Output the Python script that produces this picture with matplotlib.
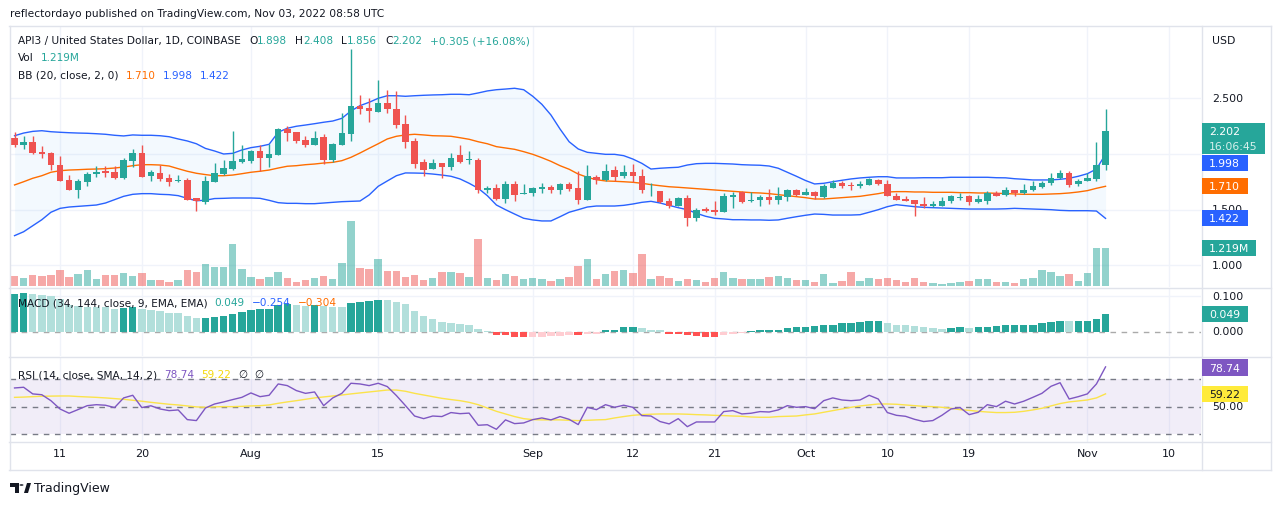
import numpy as np
import pandas as pd
import matplotlib
matplotlib.use("Agg")
import matplotlib.pyplot as plt
from matplotlib.patches import Rectangle, Polygon, Circle
from matplotlib.transforms import blended_transform_factory

W, H = 1280, 506
plt.rcParams["font.family"] = ["DejaVu Sans"]

start = pd.Timestamp("2022-07-06")

opens = [2.144, 2.084, 2.110, 2.021, 2.009, 1.901, 1.767, 1.680, 1.751, 1.820,
         1.847, 1.838, 1.782, 1.940, 2.009, 1.805, 1.829, 1.785, 1.758, 1.767,
         1.605, 1.566, 1.751, 1.823, 1.865, 1.925, 1.940, 2.027, 1.967, 1.994,
         2.224, 2.195, 2.123, 2.081, 2.153, 1.949, 2.084, 2.182, 2.431, 2.413,
         2.380, 2.458, 2.404, 2.269, 2.117, 1.925, 1.868, 1.919, 1.886, 1.991,
         1.946, 1.949, 1.680, 1.695, 1.596, 1.728, 1.644, 1.653, 1.689, 1.707,
         1.680, 1.728, 1.695, 1.590, 1.793, 1.767, 1.856, 1.805, 1.841, 1.802,
         1.665, 1.668, 1.578, 1.536, 1.605, 1.428, 1.504, 1.500, 1.482, 1.614,
         1.659, 1.575, 1.590, 1.614, 1.590, 1.614, 1.677, 1.635, 1.659, 1.617,
         1.698, 1.740, 1.725, 1.716, 1.725, 1.770, 1.731, 1.623, 1.599, 1.587,
         1.551, 1.533, 1.533, 1.581, 1.608, 1.623, 1.572, 1.581, 1.650, 1.635,
         1.677, 1.653, 1.677, 1.704, 1.740, 1.785, 1.829, 1.731, 1.761, 1.776,
         1.898]
highs = [2.200, 2.164, 2.164, 2.069, 2.021, 1.979, 1.811, 1.776, 1.841, 1.895,
         1.895, 1.895, 1.961, 2.045, 2.078, 1.859, 1.901, 1.818, 1.812, 1.782,
         1.605, 1.805, 1.919, 1.949, 2.207, 2.081, 2.039, 2.081, 2.087, 2.236,
         2.248, 2.200, 2.164, 2.207, 2.177, 2.099, 2.368, 2.943, 2.530, 2.500,
         2.664, 2.575, 2.566, 2.350, 2.141, 1.955, 1.955, 1.920, 2.009, 2.081,
         2.027, 1.961, 1.715, 1.728, 1.758, 1.758, 1.728, 1.704, 1.740, 1.722,
         1.740, 1.745, 1.845, 1.901, 1.811, 1.907, 1.895, 1.901, 1.910, 1.865,
         1.737, 1.668, 1.602, 1.614, 1.632, 1.512, 1.524, 1.578, 1.650, 1.656,
         1.668, 1.659, 1.632, 1.686, 1.704, 1.689, 1.686, 1.692, 1.671, 1.731,
         1.767, 1.761, 1.751, 1.758, 1.782, 1.776, 1.764, 1.650, 1.620, 1.590,
         1.614, 1.578, 1.611, 1.628, 1.653, 1.632, 1.632, 1.668, 1.668, 1.704,
         1.680, 1.731, 1.758, 1.758, 1.829, 1.856, 1.847, 1.776, 1.829, 2.108,
         2.408]
lows = [2.066, 2.045, 1.997, 1.961, 1.859, 1.755, 1.675, 1.602, 1.710, 1.791,
        1.791, 1.776, 1.776, 1.886, 1.793, 1.755, 1.760, 1.715, 1.751, 1.585,
        1.491, 1.548, 1.745, 1.811, 1.859, 1.919, 1.919, 1.850, 1.886, 1.991,
        2.117, 2.096, 2.060, 2.078, 1.913, 1.925, 2.081, 2.119, 2.359, 2.285,
        2.374, 2.368, 2.233, 2.051, 1.877, 1.800, 1.865, 1.782, 1.859, 1.922,
        1.913, 1.647, 1.650, 1.590, 1.563, 1.581, 1.640, 1.626, 1.650, 1.650,
        1.644, 1.668, 1.554, 1.585, 1.734, 1.760, 1.758, 1.788, 1.746, 1.653,
        1.626, 1.563, 1.518, 1.530, 1.356, 1.401, 1.477, 1.452, 1.480, 1.515,
        1.563, 1.570, 1.536, 1.554, 1.548, 1.581, 1.626, 1.630, 1.596, 1.605,
        1.695, 1.695, 1.680, 1.698, 1.722, 1.725, 1.620, 1.585, 1.578, 1.446,
        1.518, 1.527, 1.530, 1.563, 1.587, 1.542, 1.563, 1.554, 1.620, 1.623,
        1.626, 1.638, 1.668, 1.695, 1.722, 1.776, 1.704, 1.713, 1.760, 1.758,
        1.856]
closes = [2.081, 2.110, 2.009, 1.997, 1.904, 1.760, 1.680, 1.758, 1.818, 1.838,
          1.829, 1.782, 1.943, 2.009, 1.796, 1.836, 1.776, 1.751, 1.770, 1.590,
          1.581, 1.758, 1.829, 1.874, 1.937, 1.955, 2.027, 1.967, 2.000, 2.224,
          2.188, 2.119, 2.081, 2.144, 1.949, 2.087, 2.188, 2.428, 2.404, 2.386,
          2.458, 2.407, 2.258, 2.110, 1.913, 1.859, 1.919, 1.886, 1.964, 1.928,
          1.955, 1.680, 1.698, 1.596, 1.728, 1.632, 1.653, 1.695, 1.707, 1.680,
          1.728, 1.689, 1.590, 1.800, 1.764, 1.847, 1.796, 1.838, 1.805, 1.680,
          1.668, 1.569, 1.536, 1.605, 1.428, 1.497, 1.491, 1.482, 1.623, 1.632,
          1.572, 1.590, 1.614, 1.587, 1.626, 1.677, 1.635, 1.659, 1.623, 1.713,
          1.740, 1.713, 1.716, 1.731, 1.776, 1.734, 1.626, 1.590, 1.581, 1.554,
          1.533, 1.551, 1.578, 1.623, 1.617, 1.572, 1.596, 1.650, 1.626, 1.677,
          1.647, 1.677, 1.713, 1.740, 1.785, 1.829, 1.722, 1.758, 1.785, 1.898,
          2.202]
volume_m = [0.32, 0.26, 0.35, 0.32, 0.35, 0.51, 0.29, 0.38, 0.51, 0.22,
            0.35, 0.35, 0.42, 0.32, 0.42, 0.19, 0.19, 0.13, 0.19, 0.51,
            0.45, 0.71, 0.61, 0.61, 1.35, 0.55, 0.29, 0.22, 0.29, 0.45,
            0.26, 0.13, 0.19, 0.26, 0.32, 0.22, 0.74, 2.08, 0.58, 0.55,
            0.87, 0.48, 0.48, 0.29, 0.35, 0.19, 0.26, 0.45, 0.45, 0.42,
            0.29, 1.51, 0.26, 0.19, 0.38, 0.32, 0.22, 0.26, 0.22, 0.16,
            0.22, 0.29, 0.64, 0.87, 0.22, 0.38, 0.48, 0.51, 0.42, 1.03,
            0.22, 0.32, 0.26, 0.16, 0.22, 0.19, 0.13, 0.26, 0.45, 0.26,
            0.22, 0.22, 0.22, 0.29, 0.32, 0.26, 0.19, 0.19, 0.13, 0.38,
            0.10, 0.16, 0.45, 0.16, 0.26, 0.22, 0.26, 0.19, 0.13, 0.26,
            0.13, 0.10, 0.06, 0.10, 0.13, 0.16, 0.22, 0.22, 0.13, 0.13,
            0.10, 0.22, 0.26, 0.51, 0.45, 0.32, 0.38, 0.16, 0.42, 1.21,
            1.219]
bb_upper = [2.164, 2.188, 2.203, 2.209, 2.200, 2.195, 2.191, 2.188, 2.186, 2.182,
            2.177, 2.168, 2.162, 2.171, 2.168, 2.168, 2.164, 2.155, 2.135, 2.117,
            2.092, 2.050, 2.027, 2.000, 2.006, 2.036, 2.057, 2.069, 2.087, 2.195,
            2.231, 2.249, 2.260, 2.272, 2.285, 2.296, 2.320, 2.386, 2.434, 2.464,
            2.500, 2.523, 2.523, 2.518, 2.523, 2.527, 2.530, 2.532, 2.536, 2.536,
            2.532, 2.548, 2.566, 2.577, 2.583, 2.590, 2.577, 2.518, 2.446, 2.350,
            2.224, 2.110, 2.045, 2.015, 2.006, 1.997, 1.997, 1.985, 1.955, 1.916,
            1.865, 1.872, 1.877, 1.881, 1.901, 1.913, 1.916, 1.916, 1.913, 1.910,
            1.904, 1.901, 1.899, 1.892, 1.872, 1.836, 1.800, 1.762, 1.731, 1.737,
            1.751, 1.764, 1.776, 1.785, 1.791, 1.796, 1.796, 1.785, 1.785, 1.785,
            1.787, 1.787, 1.787, 1.791, 1.791, 1.791, 1.791, 1.791, 1.787, 1.786,
            1.778, 1.773, 1.767, 1.767, 1.767, 1.773, 1.782, 1.800, 1.823, 1.865,
            1.998]
bb_basis = [1.722, 1.751, 1.782, 1.805, 1.836, 1.850, 1.856, 1.859, 1.863, 1.865,
            1.868, 1.874, 1.883, 1.895, 1.904, 1.904, 1.901, 1.892, 1.868, 1.845,
            1.827, 1.815, 1.805, 1.805, 1.811, 1.823, 1.836, 1.845, 1.856, 1.874,
            1.890, 1.895, 1.904, 1.910, 1.919, 1.925, 1.940, 1.970, 2.009, 2.051,
            2.092, 2.135, 2.159, 2.171, 2.177, 2.171, 2.164, 2.162, 2.159, 2.146,
            2.132, 2.110, 2.092, 2.066, 2.054, 2.042, 2.021, 1.997, 1.967, 1.934,
            1.895, 1.863, 1.820, 1.791, 1.769, 1.758, 1.755, 1.751, 1.746, 1.737,
            1.725, 1.715, 1.706, 1.701, 1.695, 1.689, 1.683, 1.677, 1.671, 1.665,
            1.659, 1.653, 1.650, 1.644, 1.635, 1.626, 1.617, 1.608, 1.596, 1.596,
            1.602, 1.608, 1.614, 1.620, 1.632, 1.644, 1.659, 1.662, 1.662, 1.659,
            1.659, 1.656, 1.656, 1.656, 1.653, 1.653, 1.650, 1.650, 1.647, 1.645,
            1.641, 1.638, 1.638, 1.638, 1.641, 1.644, 1.650, 1.659, 1.671, 1.692,
            1.710]
bb_lower = [1.267, 1.302, 1.356, 1.410, 1.477, 1.512, 1.524, 1.530, 1.536, 1.542,
            1.560, 1.590, 1.620, 1.638, 1.644, 1.644, 1.638, 1.635, 1.626, 1.602,
            1.580, 1.585, 1.600, 1.602, 1.605, 1.605, 1.605, 1.602, 1.584, 1.563,
            1.557, 1.557, 1.554, 1.554, 1.560, 1.566, 1.572, 1.575, 1.578, 1.632,
            1.710, 1.758, 1.805, 1.830, 1.829, 1.827, 1.820, 1.811, 1.800, 1.776,
            1.737, 1.692, 1.626, 1.542, 1.500, 1.461, 1.423, 1.408, 1.399, 1.399,
            1.437, 1.477, 1.500, 1.524, 1.533, 1.533, 1.533, 1.539, 1.551, 1.566,
            1.575, 1.560, 1.539, 1.518, 1.500, 1.468, 1.441, 1.423, 1.417, 1.410,
            1.410, 1.408, 1.408, 1.405, 1.408, 1.423, 1.437, 1.450, 1.461, 1.458,
            1.452, 1.452, 1.452, 1.455, 1.477, 1.500, 1.527, 1.545, 1.536, 1.527,
            1.521, 1.518, 1.515, 1.512, 1.509, 1.506, 1.506, 1.506, 1.506, 1.508,
            1.512, 1.509, 1.506, 1.503, 1.500, 1.494, 1.491, 1.491, 1.491, 1.488,
            1.422]
macd_hist = [0.105, 0.107, 0.106, 0.102, 0.099, 0.091, 0.073, 0.071, 0.070, 0.069,
             0.068, 0.063, 0.066, 0.068, 0.063, 0.060, 0.057, 0.053, 0.051, 0.043,
             0.038, 0.039, 0.041, 0.045, 0.049, 0.054, 0.061, 0.062, 0.064, 0.074,
             0.077, 0.074, 0.071, 0.075, 0.072, 0.069, 0.068, 0.080, 0.083, 0.086,
             0.089, 0.088, 0.082, 0.076, 0.058, 0.043, 0.036, 0.027, 0.024, 0.021,
             0.018, 0.007, 0.001, -0.008, -0.010, -0.014, -0.016, -0.015, -0.014, -0.013,
             -0.011, -0.009, -0.010, -0.007, -0.005, 0.004, 0.006, 0.012, 0.0125, 0.009,
             0.006, 0.004, -0.005, -0.0055, -0.010, -0.013, -0.0135, -0.016, -0.010, -0.007,
             -0.004, 0.001, 0.004, 0.0045, 0.006, 0.009, 0.012, 0.0125, 0.015, 0.018,
             0.020, 0.023, 0.0235, 0.026, 0.029, 0.0295, 0.023, 0.020, 0.018, 0.015,
             0.012, 0.009, 0.0088, 0.0092, 0.012, 0.0115, 0.012, 0.0125, 0.015, 0.018,
             0.0182, 0.0185, 0.020, 0.023, 0.026, 0.031, 0.029, 0.0295, 0.031, 0.034,
             0.049]
rsi = [63.5, 64.0, 59.2, 58.6, 54.3, 48.3, 45.2, 47.9, 50.7, 51.4,
       51.0, 49.3, 56.3, 58.2, 49.3, 50.6, 48.3, 47.1, 47.6, 40.6,
       39.9, 49.0, 51.9, 53.4, 55.1, 56.7, 59.9, 57.2, 58.2, 66.4,
       65.2, 61.6, 59.6, 60.6, 50.7, 56.3, 59.6, 66.9, 66.4, 65.2,
       66.9, 64.5, 58.0, 50.7, 43.2, 41.3, 43.2, 42.8, 45.7, 44.9,
       45.3, 36.5, 36.9, 33.6, 40.4, 37.7, 38.2, 40.6, 41.8, 40.4,
       42.8, 40.8, 37.0, 49.5, 47.8, 51.4, 49.5, 51.0, 49.5, 43.5,
       43.2, 39.2, 37.5, 41.3, 35.5, 38.9, 38.9, 38.9, 46.4, 47.1,
       44.7, 45.2, 46.4, 46.1, 47.6, 50.7, 49.5, 50.0, 48.5, 54.3,
       56.3, 54.8, 54.3, 54.8, 58.2, 55.5, 45.7, 43.7, 43.0, 40.8,
       39.2, 39.9, 43.7, 48.3, 49.3, 44.2, 45.9, 51.4, 50.0, 53.9,
       51.9, 53.9, 56.7, 59.6, 64.7, 67.3, 55.5, 57.2, 59.2, 66.4,
       78.74]
rsi_ma = [56.7, 56.9, 57.2, 57.5, 57.6, 57.7, 57.7, 57.3, 57.0, 56.7,
          56.3, 55.8, 55.3, 54.6, 53.9, 53.1, 52.4, 51.7, 51.2, 50.5,
          49.8, 49.5, 49.8, 50.0, 50.0, 50.2, 50.5, 50.7, 51.2, 52.4,
          53.4, 54.3, 55.3, 56.3, 57.0, 57.7, 58.4, 59.2, 59.9, 60.6,
          61.3, 62.0, 62.0, 61.1, 59.6, 58.4, 57.2, 56.0, 55.1, 54.3,
          53.1, 51.4, 49.0, 46.6, 44.7, 42.8, 41.3, 40.6, 40.4, 40.4,
          40.4, 40.1, 39.9, 40.1, 40.4, 40.6, 41.8, 42.8, 43.7, 44.2,
          44.5, 44.7, 44.7, 44.7, 44.5, 44.2, 44.0, 43.7, 43.5, 43.2,
          43.0, 42.5, 42.3, 42.3, 42.8, 43.0, 43.2, 44.0, 44.7, 45.9,
          47.1, 48.3, 49.5, 50.5, 51.2, 51.9, 51.9, 51.7, 51.2, 50.7,
          50.2, 50.0, 49.5, 48.8, 47.8, 47.3, 46.6, 46.1, 45.7, 45.7,
          45.9, 46.6, 47.6, 48.8, 50.5, 52.2, 53.4, 54.1, 54.8, 56.3,
          59.22]

tick_dates = ["2022-07-11", "2022-07-20", "2022-08-01", "2022-08-15", "2022-09-01",
              "2022-09-12", "2022-09-21", "2022-10-01", "2022-10-10", "2022-10-19",
              "2022-11-01", "2022-11-10"]
tick_labels = ["11", "20", "Aug", "15", "Sep", "12", "21", "Oct", "10", "19", "Nov", "10"]
price_ticks = [1.0, 1.5, 2.0, 2.5]

UP, DOWN = "#26a69a", "#ef5350"
TXT = "#131722"
GRID = "#f0f3fa"
BORDER = "#e0e3eb"
LEG = 7.6  # legend font size

o = np.array(opens); h = np.array(highs); l = np.array(lows); c = np.array(closes)
idx = np.arange(len(c))
ticks = [(pd.Timestamp(d) - start).days for d in tick_dates]
up = c >= o
ccol = np.where(up, UP, DOWN)

fig = plt.figure(figsize=(12.8, 5.06), dpi=100)
fig.patch.set_facecolor("white")
renderer = fig.canvas.get_renderer()


def box(x0, y0, x1, y1):
    return [x0 / W, 1 - y1 / H, (x1 - x0) / W, (y1 - y0) / H]


def ftext(x, y, s, color=TXT, size=LEG, **kw):
    return fig.text(x / W, 1 - y / H, s, color=color, fontsize=size, va="center", **kw)


def legend_row(x, y, parts, gap=7):
    # parts: list of (text, color, stick) ; stick=True means no gap before next part
    for s, col, stick in parts:
        t = ftext(x, y, s, color=col)
        x += t.get_window_extent(renderer).width + (0 if stick else gap)


def fline(x0, y0, x1, y1, color=BORDER):
    fig.add_artist(plt.Line2D([x0 / W, x1 / W], [1 - y0 / H, 1 - y1 / H],
                              transform=fig.transFigure, color=color, lw=1))


def tag(y0, y1, color, s, x1=1248, tcolor="white", s2=None):
    fig.add_artist(Rectangle((1202 / W, 1 - y1 / H), (x1 - 1202) / W, (y1 - y0) / H,
                             transform=fig.transFigure, fc=color, ec="none", zorder=5))
    if s2 is None:
        fig.text(1209 / W, 1 - (y0 + y1) / 2 / H, s, color=tcolor, fontsize=7.8,
                 va="center", zorder=6)
    else:
        fig.text(1209 / W, 1 - (y0 + 8) / H, s, color=tcolor, fontsize=7.8, va="center", zorder=6)
        fig.text(1209 / W, 1 - (y1 - 8) / H, s2, color="#d6f0ec", fontsize=7.8, va="center", zorder=6)


XL = (-0.5, 130.5)
ax_vol = fig.add_axes(box(10, 27, 1201, 288))
ax = fig.add_axes(box(10, 27, 1201, 288))
ax_macd = fig.add_axes(box(10, 289, 1201, 357))
ax_rsi = fig.add_axes(box(10, 358, 1201, 443))
for a in (ax_vol, ax, ax_macd, ax_rsi):
    a.set_xlim(*XL)
    for s in a.spines.values():
        s.set_visible(False)
    a.set_xticks([])
    a.set_yticks([])
ax.set_facecolor("none")

# vertical grid
for a in (ax_vol, ax_macd, ax_rsi):
    for t in ticks:
        a.axvline(t, color=GRID, lw=1, zorder=0)

# price pane: horizontal grid drawn behind volume via the volume axes
ax.set_ylim(0.806, 3.149)
ax_vol.set_ylim(-0.032, 8.34)
for p in price_ticks:
    yv = ax_vol.transData.inverted().transform(ax.transData.transform((0, p)))[1]
    ax_vol.axhline(yv, color=GRID, lw=1, zorder=0)

vcol = [(0.149, 0.651, 0.604, 0.5) if u else (0.937, 0.325, 0.314, 0.5) for u in up]
ax_vol.bar(idx, volume_m, width=0.82, color=vcol, zorder=2)

ax.fill_between(idx, bb_lower, bb_upper, color="#2196f3", alpha=0.05, lw=0)
ax.plot(idx, bb_upper, color="#2962ff", lw=1)
ax.plot(idx, bb_lower, color="#2962ff", lw=1)
ax.plot(idx, bb_basis, color="#ff6d00", lw=1)
ax.vlines(idx, l, h, color=ccol, lw=1, zorder=3)
ax.bar(idx, np.maximum(np.abs(c - o), 0.007), bottom=np.minimum(o, c), width=0.72,
       color=ccol, zorder=4)

# MACD histogram
ax_macd.set_ylim(-0.0675, 0.1214)
ax_macd.axhline(0.1, color=GRID, lw=1, zorder=0)
mcol = []
prev = None
for v in macd_hist:
    rising = prev is None or v > prev
    if v >= 0:
        mcol.append("#26a69a" if rising else "#b2dfdb")
    else:
        mcol.append("#ffcdd2" if rising else "#ff5252")
    prev = v
ax_macd.axhline(0, color="#aaaaaa", lw=1, ls=(0, (4, 4)), zorder=1)
ax_macd.bar(idx, macd_hist, width=0.82, color=mcol, zorder=2)

# RSI
ax_rsi.set_ylim(24.4, 85.9)
ax_rsi.axhspan(30, 70, color="#7e57c2", alpha=0.1, lw=0)
for lv in (70, 50, 30):
    ax_rsi.axhline(lv, color="#787b86", lw=1, ls=(0, (4, 4)))
ax_rsi.plot(idx, rsi_ma, color="#fbe34a", lw=1)
ax_rsi.plot(idx, rsi, color="#7e57c2", lw=1)

# frame and separators
fline(9, 27, 1271, 27)
fline(9, 288.5, 1271, 288.5)
fline(9, 357.5, 1271, 357.5)
fline(9, 443, 1271, 443)
fline(9, 471, 1271, 471)
fline(9.5, 27, 9.5, 471)
fline(1270.5, 27, 1270.5, 471)
fline(1201.5, 27, 1201.5, 471)

# time axis
tr = blended_transform_factory(ax_rsi.transData, fig.transFigure)
for t, s in zip(ticks, tick_labels):
    ax_rsi.text(t, 1 - 454 / H, s, transform=tr, ha="center", va="center",
                color=TXT, fontsize=8, clip_on=False)

# right scale
ftext(1212, 41, "USD", size=7.8)
for y, s in ((99, "2.500"), (210, "1.500"), (266, "1.000"), (297, "0.100"),
             (332, "0.000"), (407, "50.00")):
    ftext(1212, y, s, size=7.8)
tag(124, 155, UP, "2.202", x1=1265, s2="16:06:45")
tag(156, 172, "#2962ff", "1.998")
tag(179, 195, "#ff6d00", "1.710")
tag(211, 227, "#2962ff", "1.422")
tag(241, 257, UP, "1.219M", x1=1256)
tag(307, 323, UP, "0.049")
tag(360, 377, "#7e57c2", "78.74")
tag(387, 403, "#ffeb3b", "59.22", tcolor=TXT)

# header and legends
ftext(10, 14, "reflectordayo published on TradingView.com, Nov 03, 2022 08:58 UTC", size=7.7)
legend_row(18, 41, [("API3 / United States Dollar, 1D, COINBASE", TXT, False),
                    ("O", TXT, True), ("1.898", UP, False),
                    ("H", TXT, True), ("2.408", UP, False),
                    ("L", TXT, True), ("1.856", UP, False),
                    ("C", TXT, True), ("2.202", UP, False),
                    ("+0.305 (+16.08%)", UP, False)], gap=8)
legend_row(18, 58, [("Vol", TXT, False), ("1.219M", UP, False)])
legend_row(18, 76, [("BB (20, close, 2, 0)", TXT, False), ("1.710", "#ff6d00", False),
                    ("1.998", "#2962ff", False), ("1.422", "#2962ff", False)])
legend_row(18, 303, [("MACD (34, 144, close, 9, EMA, EMA)", TXT, False), ("0.049", UP, False),
                     ("\u22120.254", "#2962ff", False), ("\u22120.304", "#ff6d00", False)])
legend_row(18, 375, [("RSI (14, close, SMA, 14, 2)", TXT, False), ("78.74", "#7e57c2", False),
                     ("59.22", "#f5d90a", False), ("\u2205", TXT, False), ("\u2205", TXT, False)])

# TradingView logo
fig.add_artist(Polygon([(10 / W, 1 - 484 / H), (19 / W, 1 - 484 / H), (19 / W, 1 - 494 / H),
                        (15 / W, 1 - 494 / H), (15 / W, 1 - 488 / H), (10 / W, 1 - 488 / H)],
                       closed=True, transform=fig.transFigure, fc=TXT, ec="none"))
fig.add_artist(Circle((21.5 / W, 1 - 486 / H), 2 / W, transform=fig.transFigure, fc=TXT, ec="none"))
fig.add_artist(Polygon([(24 / W, 1 - 494 / H), (27 / W, 1 - 484 / H), (31 / W, 1 - 484 / H),
                        (28 / W, 1 - 494 / H)], closed=True, transform=fig.transFigure,
                       fc=TXT, ec="none"))
ftext(34, 489, "TradingView", size=9)

fig.savefig("out.png", dpi=100, facecolor="white")
